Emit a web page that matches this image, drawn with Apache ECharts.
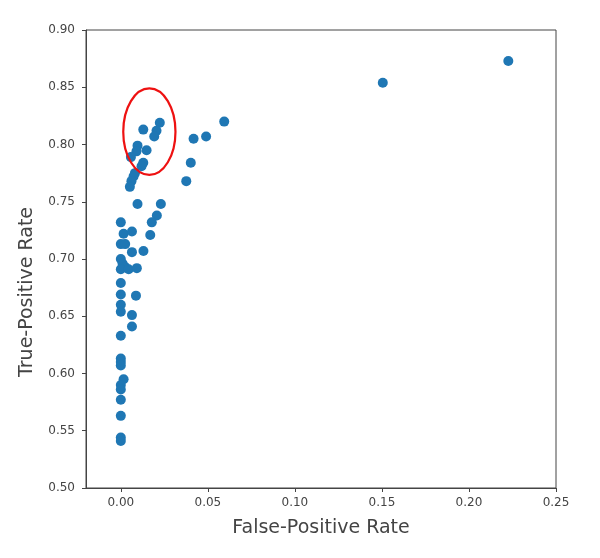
<!DOCTYPE html>
<html><head><meta charset="utf-8">
<script src="https://cdn.jsdelivr.net/npm/echarts@6/dist/echarts.min.js"></script>
<style>html,body{margin:0;padding:0;background:#fff}#c{width:600px;height:558px}</style>
</head><body><div id="c"></div>
<script>
// False-positive rate (x) and true-positive rate (y) of each point
const fpr = [0.2226,0.1505,
  0.0594,0.049,0.0418,0.0402,0.0376,
  0.0224,0.0205,0.0192,0.0129,0.0096,0.0148,0.009,0.0058,0.0129,0.0119,0.0081,0.0073,0.0061,0.0052,
  0.0096,0.023,0.0207,0.0178,0.0169,0.0130,
  0.0,0.0016,0.0064,0.0,0.0025,0.0064,0.0,0.001,0.0025,0.0,0.0045,0.0092,0.0,0.0,0.0087,0.0,0.0,0.0064,0.0064,0.0,0.0,0.0,0.0,0.0016,0.0,0.0,0.0,0.0,0.0,0.0];
const tpr = [0.873,0.854,
  0.820,0.807,0.805,0.784,0.768,
  0.819,0.812,0.807,0.813,0.799,0.795,0.794,0.789,0.784,0.781,0.775,0.772,0.768,0.763,
  0.748,0.748,0.738,0.732,0.721,0.707,
  0.732,0.722,0.724,0.713,0.713,0.706,0.700,0.696,0.693,0.691,0.691,0.692,0.679,0.669,0.668,0.660,0.654,0.651,0.641,0.633,0.613,0.610,0.607,0.595,0.590,0.586,0.577,0.563,0.544,0.541];
// highlighted region (ellipse): centre fpr, centre tpr, radius fpr, radius tpr
const highlightCenter = [0.0164, 0.8112];
const highlightRadius = [0.0150, 0.0378];
const xTicks = [0.00,0.05,0.10,0.15,0.20,0.25];
const yTicks = [0.50,0.55,0.60,0.65,0.70,0.75,0.80,0.85,0.90];
const xRange = [-0.02, 0.25];
const yRange = [0.50, 0.90];

const points = fpr.map((v,i)=>[v,tpr[i]]);
const font = 'DejaVu Sans';
const axisColor = '#444';
const chart = echarts.init(document.getElementById('c'), null, {renderer:'canvas'});
chart.setOption({
  animation:false,
  backgroundColor:'#fff',
  grid:{left:86,right:44,top:30,bottom:70,show:true,borderColor:axisColor,borderWidth:1,backgroundColor:'transparent'},
  xAxis:{type:'value',min:xRange[0],max:xRange[1],
    name:'False-Positive Rate',nameLocation:'middle',nameGap:31,
    nameTextStyle:{fontFamily:font,fontSize:19,color:'#444'},
    axisLine:{show:true,onZero:false,lineStyle:{color:axisColor,width:1}},
    axisTick:{show:true,customValues:xTicks,length:4,lineStyle:{color:axisColor}},
    axisLabel:{customValues:xTicks,formatter:v=>v.toFixed(2),fontFamily:font,fontSize:12,color:'#444',margin:9},
    splitLine:{show:false}},
  yAxis:{type:'value',min:yRange[0],max:yRange[1],
    axisLine:{show:true,onZero:false,lineStyle:{color:axisColor,width:1}},
    axisTick:{show:true,customValues:yTicks,length:4,lineStyle:{color:axisColor}},
    axisLabel:{customValues:yTicks,formatter:v=>v.toFixed(2),fontFamily:font,fontSize:12,color:'#444',margin:11},
    splitLine:{show:false}},
  graphic:[{type:'text',x:27,y:292,rotation:Math.PI/2,
    style:{text:'True-Positive Rate',textAlign:'center',textVerticalAlign:'middle',fontFamily:font,fontSize:19,fill:'#444'}}],
  series:[
    {type:'scatter',data:points,symbol:'circle',symbolSize:10,itemStyle:{color:'#1f77b4',opacity:1},z:2},
    {type:'custom',data:[[highlightCenter[0],highlightCenter[1],highlightRadius[0],highlightRadius[1]]],
      encode:{x:0,y:1},z:3,
      renderItem:function(params,api){
        const c = api.coord([api.value(0),api.value(1)]);
        const p = api.coord([api.value(0)+api.value(2),api.value(1)+api.value(3)]);
        return {type:'ellipse',shape:{cx:c[0],cy:c[1],rx:Math.abs(p[0]-c[0]),ry:Math.abs(p[1]-c[1])},
          style:{fill:null,stroke:'#ee1111',lineWidth:2.2}};
      }}
  ]
});
</script></body></html>
